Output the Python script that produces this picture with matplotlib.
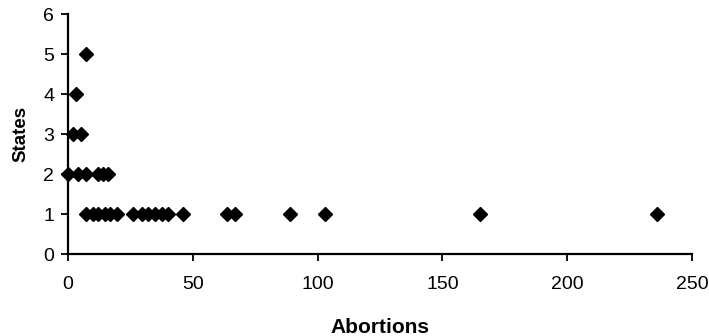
import matplotlib
matplotlib.use("Agg")
import matplotlib.pyplot as plt

abortions = [0, 4, 7, 12, 14, 16,
             2, 5,
             3,
             7,
             7, 10, 12, 15, 17, 19.5, 26, 29.5, 32, 35, 37.5, 40, 46, 63.5, 67, 89, 103, 165, 236]
states = [2, 2, 2, 2, 2, 2,
          3, 3,
          4,
          5,
          1, 1, 1, 1, 1, 1, 1, 1, 1, 1, 1, 1, 1, 1, 1, 1, 1, 1, 1]
x_ticks = [0, 50, 100, 150, 200, 250]
y_ticks = [0, 1, 2, 3, 4, 5, 6]

plt.rcParams['font.family'] = ['Liberation Sans', 'DejaVu Sans']

fig = plt.figure(figsize=(7.09, 3.36), dpi=100)
ax = fig.add_axes([0.096, 0.244, 0.880, 0.714])
ax.plot(abortions, states, linestyle='none', marker='D', markersize=7.3,
        color='black', clip_on=False)
ax.set_xlim(0, 250)
ax.set_ylim(0, 6)
ax.set_xticks(x_ticks)
ax.set_yticks(y_ticks)
ax.spines['top'].set_visible(False)
ax.spines['right'].set_visible(False)
for s in ['left', 'bottom']:
    ax.spines[s].set_linewidth(1.6)
ax.tick_params(axis='both', direction='out', length=5, width=1.3,
               labelsize=14, colors='black')
ax.tick_params(axis='x', pad=11)
ax.tick_params(axis='y', pad=5)
ax.set_xlabel('Abortions', fontsize=15, fontweight='bold', labelpad=18)
ax.set_ylabel('States', fontsize=13.5, fontweight='bold', labelpad=10)
fig.savefig('out.png', dpi=100)
